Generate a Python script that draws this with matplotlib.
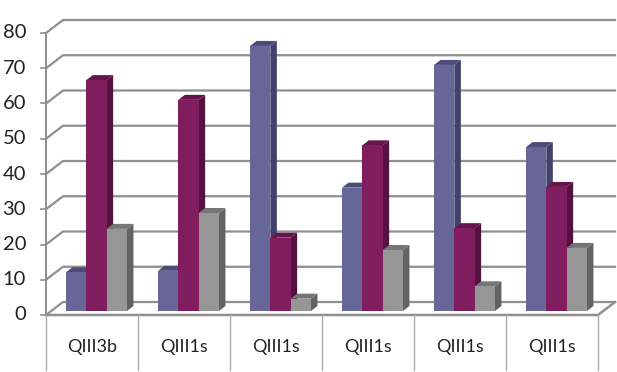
import matplotlib
matplotlib.use("Agg")
import matplotlib.pyplot as plt
from matplotlib.patches import Polygon

categories = ["QIII3b", "QIII1s", "QIII1s", "QIII1s", "QIII1s", "QIII1s"]
series_a = [11.0, 11.4, 75.2, 35.0, 69.8, 46.5]
series_b = [65.5, 59.9, 20.8, 47.0, 23.5, 35.2]
series_c = [23.3, 27.8, 3.5, 17.3, 7.0, 17.9]
y_ticks = [0, 10, 20, 30, 40, 50, 60, 70, 80]

# front, side, top
colors = [("#666699", "#41416b", "#4c4c7a"),
          ("#7f1d5f", "#55113f", "#661449"),
          ("#969696", "#636363", "#757575")]
grid_color = "#8f8f8f"

W, H = 617, 372
left, right, base, top = 46, 598, 315, 33
px_x = 6 / (right - left)  # data units per pixel
px_y = 80 / (base - top)

plt.rcParams["font.family"] = ["Lato", "DejaVu Sans"]
fig = plt.figure(figsize=(W / 100, H / 100), dpi=100)
ax = fig.add_axes([left / W, (H - base) / H, (right - left) / W, (base - top) / H])
ax.set_xlim(0, 6)
ax.set_ylim(0, 80)
ax.axis("off")

wall_x = 17 * px_x
wall_y = 13 * px_y

# walls and gridlines
for v in y_ticks:
    ax.plot([0, wall_x, 6 + wall_x], [v, v + wall_y, v + wall_y], color=grid_color, lw=1.6,
            clip_on=False, zorder=1)
    ax.plot([-5 * px_x, 0], [v, v], color=grid_color, lw=1.2, clip_on=False, zorder=1)
    ax.text(-20 * px_x, v, str(v), ha="right", va="center", fontsize=14.5, color="#222222")
ax.plot([0, 0], [0, 80], color=grid_color, lw=1.4, clip_on=False, zorder=1)
ax.plot([0, 6, 6 + wall_x], [0, 0, wall_y], color=grid_color, lw=1.8, clip_on=False, zorder=1)

# category separators and labels
for i in range(7):
    ax.plot([i, i], [0, -55 * px_y], color="#aaaaaa", lw=1.0, clip_on=False, zorder=1)
for i, c in enumerate(categories):
    ax.text(i + 0.5, -32 * px_y, c, ha="center", va="center", fontsize=13, color="#222222")

# bars
w = 20.3 * px_x
shift_x = 4.5 * px_x
lift = 4 * px_y
dx = 6.5 * px_x
dy = 5 * px_y
z = 2
for i in range(len(categories)):
    for j, vals in enumerate([series_a, series_b, series_c]):
        x0 = i + 0.5 + shift_x + (j - 1.5) * w
        h = vals[i] + lift
        front, side, cap = colors[j]
        ax.add_patch(Polygon([(x0 + w, lift), (x0 + w + dx, lift + dy), (x0 + w + dx, h + dy), (x0 + w, h)],
                             closed=True, fc=side, ec="none", zorder=z, clip_on=False))
        ax.add_patch(Polygon([(x0, h), (x0 + dx, h + dy), (x0 + w + dx, h + dy), (x0 + w, h)],
                             closed=True, fc=cap, ec="none", zorder=z, clip_on=False))
        ax.bar(x0, vals[i], width=w, bottom=lift, align="edge", color=front, zorder=z + 0.5, clip_on=False)
        z += 1

fig.savefig("out.png", dpi=100)
